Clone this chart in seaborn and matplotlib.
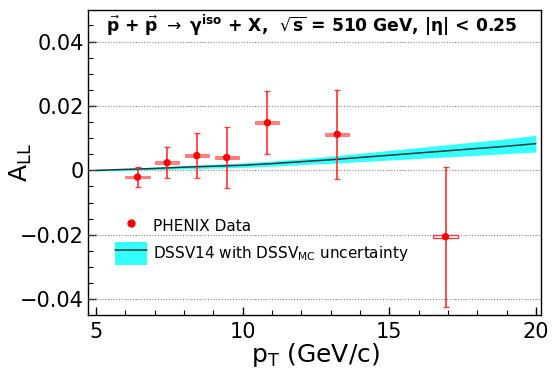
import numpy as np
import pandas as pd
import matplotlib
matplotlib.use("Agg")
import matplotlib.pyplot as plt
import seaborn as sns
from matplotlib.lines import Line2D
from matplotlib.patches import Patch
from matplotlib.ticker import MultipleLocator

# ---- data ----
pt = [6.42, 7.43, 8.44, 9.46, 10.85, 13.23, 16.92]
all_vals = [-0.0021, 0.0024, 0.0046, 0.0040, 0.0148, 0.0112, -0.0206]
stat_err = [0.0032, 0.0048, 0.0069, 0.0094, 0.0098, 0.0139, 0.0218]
pt_halfwidth = [0.41, 0.41, 0.41, 0.41, 0.41, 0.41, 0.41]
sys_half = [0.0004, 0.0004, 0.0004, 0.0004, 0.0004, 0.0004, 0.0005]

theory_pt = [5, 6, 7, 8, 9, 10, 11, 12, 13, 14, 15, 16, 17, 18, 19, 20]
theory_all = [0.0, 0.0003, 0.0006, 0.0010, 0.0013, 0.0016, 0.0021, 0.0027,
              0.0033, 0.0040, 0.0047, 0.0054, 0.0061, 0.0068, 0.0075, 0.0083]
theory_unc = [0.0002, 0.0003, 0.0004, 0.0005, 0.0006, 0.0007, 0.0008, 0.0009,
              0.0011, 0.0013, 0.0015, 0.0017, 0.0019, 0.0021, 0.0023, 0.0026]

yticks = [-0.04, -0.02, 0, 0.02, 0.04]
ytick_labels = ["\u22120.04", "\u22120.02", "0", "0.02", "0.04"]
xticks = [5, 10, 15, 20]

sns.set_style("ticks")
plt.rcParams["font.family"] = ["DejaVu Sans"]
plt.rcParams["mathtext.fontset"] = "dejavusans"
plt.rcParams["text.color"] = "black"
plt.rcParams["axes.labelcolor"] = "black"
plt.rcParams["xtick.color"] = "black"
plt.rcParams["ytick.color"] = "black"

fig = plt.figure(figsize=(5.53, 3.71), dpi=100)
ax = fig.add_axes([0.159, 0.151, 0.819, 0.822])

th = pd.DataFrame({"pt": theory_pt, "all": theory_all, "unc": theory_unc})
ax.fill_between(th["pt"], th["all"] - th["unc"], th["all"] + th["unc"],
                color="#33ffff", linewidth=0, zorder=2)
sns.lineplot(data=th, x="pt", y="all", color="#1a3a3a", linewidth=1.1, ax=ax, zorder=3)

df = pd.DataFrame({"pt": pt, "all": all_vals, "err": stat_err,
                   "xw": pt_halfwidth, "sys": sys_half})
# systematic boxes
filled = df.iloc[:-1]
last = df.iloc[-1:]
ax.bar(filled["pt"], 2 * filled["sys"], bottom=filled["all"] - filled["sys"],
       width=2 * filled["xw"], color="#ff8080", edgecolor="#ff6060", linewidth=0.5, zorder=4)
ax.bar(last["pt"], 2 * last["sys"], bottom=last["all"] - last["sys"],
       width=2 * last["xw"], fill=False, edgecolor="#ff3030", linewidth=0.9, zorder=4)
ax.errorbar(df["pt"], df["all"], yerr=df["err"], fmt="none", ecolor="#ff2020",
            elinewidth=1.3, capsize=2.5, capthick=1.0, alpha=0.85, zorder=5)
sns.scatterplot(data=df, x="pt", y="all", color="red", s=28, edgecolor="none",
                ax=ax, zorder=6)

ax.set_xlim(4.73, 20.17)
ax.set_ylim(-0.0449, 0.0498)
ax.set_xticks(xticks)
ax.set_xticklabels([str(v) for v in xticks])
ax.set_yticks(yticks)
ax.set_yticklabels(ytick_labels)
ax.xaxis.set_minor_locator(MultipleLocator(1))
ax.yaxis.set_minor_locator(MultipleLocator(0.005))
ax.tick_params(axis="both", which="major", direction="in", length=6, width=1,
               labelsize=15, colors="black", pad=3)
ax.tick_params(axis="both", which="minor", direction="in", length=3.5, width=0.8)
ax.tick_params(axis="x", which="major", pad=5)
for s in ax.spines.values():
    s.set_color("black")
    s.set_linewidth(1.0)
    s.set_visible(True)

for v in yticks:
    ax.axhline(v, color="#888888", linestyle=(0, (1, 1.5)), linewidth=0.8, zorder=1)

ax.set_xlabel(r"p$_{\mathrm{T}}$ (GeV/c)", fontsize=18)
ax.set_ylabel(r"A$_{\mathrm{LL}}$", fontsize=18)
ax.xaxis.set_label_coords(0.503, -0.085)
ax.yaxis.set_label_coords(-0.12, 0.5)

title = (r"$\vec{\mathbf{p}}$ + $\vec{\mathbf{p}}$ $\rightarrow$ "
         r"$\mathbf{\gamma}^{\mathbf{iso}}$ + X,  $\sqrt{\mathbf{s}}$ = 510 GeV, "
         r"|$\mathbf{\eta}$| < 0.25")
ax.text(0.040, 0.951, title, transform=ax.transAxes, fontsize=12.3,
        fontweight="bold", ha="left", va="center", color="black")

handles = [Line2D([], [], marker="o", color="red", linestyle="none", markersize=5),
           (Patch(facecolor="#33ffff", edgecolor="none"),
            Line2D([], [], color="#1a3a3a", linewidth=1.1))]
labels = ["PHENIX Data", r"DSSV14 with DSSV$_{\mathrm{MC}}$ uncertainty"]
ax.legend(handles, labels, loc="upper left", bbox_to_anchor=(0.03, 0.375),
          frameon=False, fontsize=11, handlelength=2.1, handleheight=2.0,
          labelspacing=0.25, handletextpad=0.4)

fig.savefig("out.png", dpi=100)
